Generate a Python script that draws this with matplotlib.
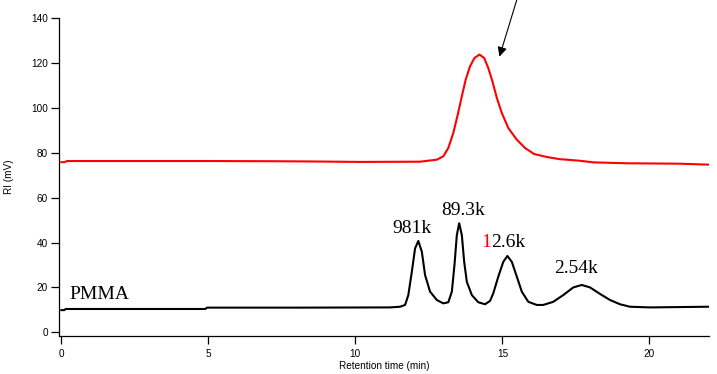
import matplotlib

matplotlib.use("Agg")
import matplotlib.pyplot as plt

# red trace (sample)
red_t = [0.0, 0.1, 0.2, 2.0, 5.0, 7.3, 8.5, 10.16, 12.2, 12.77, 12.99, 13.16, 13.33,
         13.48, 13.62, 13.75, 13.90, 14.05, 14.22, 14.38, 14.52, 14.66, 14.81, 14.98,
         15.20, 15.49, 15.77, 16.08, 16.28, 16.51, 16.96, 17.19, 17.64, 18.1, 19.23,
         21.04, 22.0]
red_ri = [75.8, 75.8, 76.3, 76.3, 76.3, 76.2, 76.1, 75.9, 76.0, 76.9, 78.4, 82.1, 88.8,
          96.9, 105.1, 112.5, 118.5, 122.2, 123.7, 122.2, 117.7, 111.8, 104.4, 97.7,
          91.0, 85.8, 82.1, 79.4, 78.8, 78.1, 77.1, 76.9, 76.4, 75.7, 75.3,
          75.1, 74.7]

# black trace (PMMA standards)
pmma_t = [0.0, 0.1, 0.15, 2.5, 4.9, 4.95, 8.0, 11.17, 11.52, 11.69, 11.80, 11.92, 12.03,
          12.14, 12.26, 12.37, 12.54, 12.77, 12.99, 13.16, 13.28, 13.37, 13.45, 13.53,
          13.62, 13.70, 13.79, 13.96, 14.18, 14.41, 14.58, 14.69, 14.86, 15.03, 15.17,
          15.32, 15.49, 15.66, 15.88, 16.17, 16.39, 16.73, 17.07, 17.41, 17.70, 17.98,
          18.32, 18.66, 19.0, 19.34, 20.02, 22.0]
pmma_ri = [9.9, 9.9, 10.4, 10.4, 10.4, 11.0, 11.0, 11.1, 11.4, 12.2, 16.6, 27.0, 37.4,
           40.7, 35.9, 25.5, 18.1, 14.4, 12.9, 13.4, 18.1, 30.0, 43.3, 48.6,
           43.3, 31.4, 22.5, 16.6, 13.4, 12.5, 14.0, 17.4, 24.8, 31.4, 34.0,
           31.4, 24.8, 18.1, 13.6, 12.2, 12.2, 13.6, 16.6, 20.0, 21.1, 20.0,
           17.1, 14.4, 12.5, 11.4, 11.1, 11.4]

# peak labels: text, x centre, y baseline
peak_labels = ["981k", "89.3k", "2.54k"]
peak_x = [11.93, 13.66, 17.51]
peak_y = [44.2, 52.2, 26.4]

fig = plt.figure(figsize=(7.17, 3.74), dpi=100)
ax = fig.add_axes([0.0827, 0.1024, 0.9063, 0.8495])

ax.plot(red_t, red_ri, color="#ff0000", lw=1.5, solid_joinstyle="round")
ax.plot(pmma_t, pmma_ri, color="black", lw=1.5, solid_joinstyle="round")

ax.set_xlim(-0.07, 22.03)
ax.set_ylim(-1.5, 140)
ax.set_xticks([0, 5, 10, 15, 20])
ax.set_yticks(range(0, 141, 20))

for side in ["top", "right"]:
    ax.spines[side].set_visible(False)
for side in ["left", "bottom"]:
    ax.spines[side].set_linewidth(0.9)

ax.tick_params(direction="out", length=5.5, width=0.9, labelsize=7.2, pad=2.5)
ax.tick_params(axis="x", pad=4.0)
for lbl in ax.get_xticklabels() + ax.get_yticklabels():
    lbl.set_fontfamily("Liberation Sans")

ax.set_xlabel("Retention time (min)", fontsize=7.2, family="Liberation Sans", labelpad=1.5)
ax.set_ylabel("RI (mV)", fontsize=7.2, family="Liberation Sans")
ax.yaxis.set_label_coords(-0.069, 0.5)

serif = dict(family="Liberation Serif", fontsize=14, va="baseline")
for txt, x, y in zip(peak_labels, peak_x, peak_y):
    ax.text(x, y, txt, ha="center", **serif)
# 12.6k with the leading "1" in red
ax.text(14.62, 38.0, "1", ha="right", color="#ff0000", **serif)
ax.text(14.62, 38.0, "2.6k", ha="left", color="black", **serif)
ax.text(0.26, 14.8, "PMMA", ha="left", **serif)

ax.annotate("", xy=(14.9, 122.8), xytext=(0.7207, 1.0),
            textcoords="figure fraction", annotation_clip=False,
            arrowprops=dict(arrowstyle="-|>", lw=0.8, color="black",
                            mutation_scale=14, shrinkA=0, shrinkB=0))

fig.savefig("out.png", dpi=100)
